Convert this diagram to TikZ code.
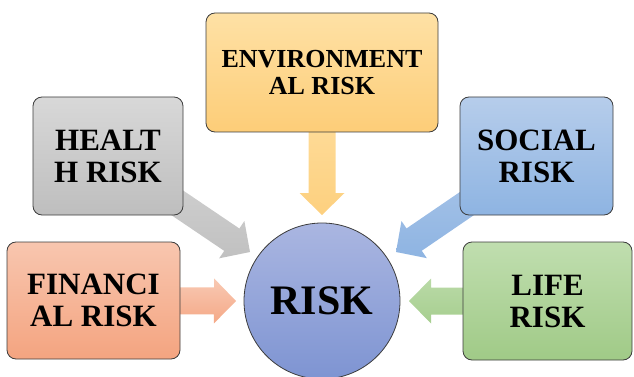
\documentclass[tikz,border=0pt]{standalone}
\usepackage{fontspec}
\setmainfont{Liberation Serif}
\usetikzlibrary{calc,backgrounds}
\definecolor{finT}{RGB}{248,198,175}
\definecolor{finB}{RGB}{244,164,128}
\definecolor{heaT}{RGB}{216,216,216}
\definecolor{heaB}{RGB}{190,190,190}
\definecolor{envT}{RGB}{254,225,165}
\definecolor{envB}{RGB}{253,205,120}
\definecolor{socT}{RGB}{182,205,235}
\definecolor{socB}{RGB}{142,180,226}
\definecolor{lifT}{RGB}{192,222,175}
\definecolor{lifB}{RGB}{160,202,135}
\definecolor{rskT}{RGB}{170,182,225}
\definecolor{rskB}{RGB}{126,148,210}
\definecolor{edge}{RGB}{60,60,60}
\newcommand{\blockarrow}[3]{%
  \coordinate (ba-h) at ($(#2)!22pt!(#1)$);
  \shade[#3] ($(#1)!13.5pt!90:(#2)$) -- ($(ba-h)!13.5pt!90:(#2)$) -- ($(ba-h)!22.5pt!90:(#2)$) -- (#2)
    -- ($(ba-h)!22.5pt!-90:(#2)$) -- ($(ba-h)!13.5pt!-90:(#2)$) -- ($(#1)!13.5pt!-90:(#2)$) -- cycle;}
\begin{document}
\begin{tikzpicture}[x=1pt,y=-1pt,
  box/.style={draw=edge, line width=0.8pt, rounded corners=9pt, inner sep=0pt, align=center,
    font=\bfseries\fontsize{31}{32}\selectfont},
  hub/.style={circle, draw=edge, line width=0.8pt, inner sep=0pt, minimum size=156pt,
    font=\bfseries\fontsize{42}{44}\selectfont},
  farr/.style={top color=finT!95!white, bottom color=finB!95!white},
  harr/.style={top color=heaT!90!heaB, bottom color=heaB!90!heaT},
  earr/.style={top color=envT, bottom color=envB!85!envT},
  sarr/.style={top color=socT!80!socB, bottom color=socB},
  larr/.style={top color=lifT!80!lifB, bottom color=lifB!80!lifT}]
\useasboundingbox (0,0) rectangle (634,377);
\node[box, minimum width=173pt, minimum height=117pt, top color=finT, bottom color=finB] (fin) at (93.5,300.5) {FINANCI\\AL RISK};
\node[box, minimum width=150pt, minimum height=118pt, top color=heaT, bottom color=heaB] (hea) at (108,156) {HEALT\\H RISK};
\node[box, minimum width=232pt, minimum height=119pt, top color=envT, bottom color=envB,
  font=\bfseries\fontsize{26}{27}\selectfont] (env) at (322,72.5) {ENVIRONMENT\\AL RISK};
\node[box, minimum width=153pt, minimum height=118pt, top color=socT, bottom color=socB] (soc) at (536.5,156) {SOCIAL\\RISK};
\node[box, minimum width=169pt, minimum height=118pt, top color=lifT, bottom color=lifB] (lif) at (547.5,301) {LIFE\\RISK};
\node[hub, top color=rskT, bottom color=rskB] (risk) at (322,301) {RISK};
\coordinate (tipF) at (236,301);
\coordinate (tipH) at (250,252);
\coordinate (tipE) at (322,215);
\coordinate (tipS) at (396,252);
\coordinate (tipL) at (409,301);
\begin{pgfonlayer}{background}
\blockarrow{fin.center}{tipF}{farr}
\blockarrow{hea.center}{tipH}{harr}
\blockarrow{env.center}{tipE}{earr}
\blockarrow{soc.center}{tipS}{sarr}
\blockarrow{lif.center}{tipL}{larr}
\end{pgfonlayer}
\end{tikzpicture}
\end{document}
